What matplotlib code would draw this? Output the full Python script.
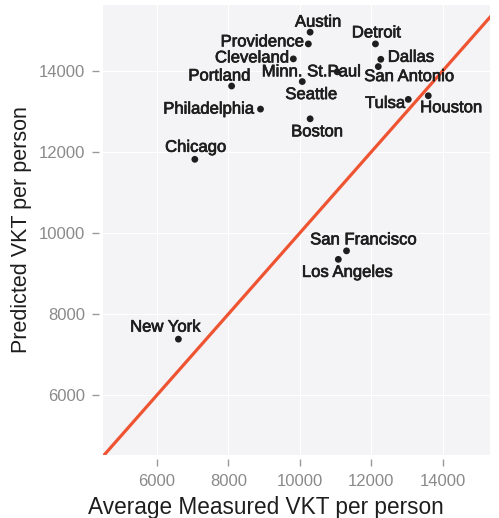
import matplotlib.pyplot as plt
import matplotlib.patheffects as pe
import numpy as np

plt.rcParams['font.family'] = ['Liberation Sans', 'DejaVu Sans']

# Measured vs predicted vehicle kilometres travelled per person
cities = ["Austin", "Providence", "Cleveland", "Portland", "Minn. St.Paul", "Seattle",
          "Detroit", "Dallas", "San Antonio", "Tulsa", "Houston", "Philadelphia",
          "Boston", "Chicago", "San Francisco", "Los Angeles", "New York"]
measured = [10290, 10240, 9820, 8090, 11050, 10070,
            12120, 12270, 12200, 13040, 13600, 8900,
            10290, 7060, 11310, 11080, 6600]
predicted = [14960, 14670, 14300, 13630, 13980, 13740,
             14670, 14290, 14110, 13300, 13390, 13060,
             12820, 11820, 9560, 9350, 7380]

# label placement: (dx, dy) in pixels and horizontal alignment
label_pos = {
    "Austin": (8, 10, 'center'),
    "Providence": (-4, 2, 'right'),
    "Cleveland": (-4, 1, 'right'),
    "Portland": (-12, 10, 'center'),
    "Minn. St.Paul": (-26, 0, 'center'),
    "Seattle": (9, -13, 'center'),
    "Detroit": (1, 11, 'center'),
    "Dallas": (7, 2, 'left'),
    "San Antonio": (31, -10, 'center'),
    "Tulsa": (-3, -4, 'right'),
    "Houston": (23, -12, 'center'),
    "Philadelphia": (-6, 0, 'right'),
    "Boston": (7, -13, 'center'),
    "Chicago": (1, 12, 'center'),
    "San Francisco": (17, 11, 'center'),
    "Los Angeles": (9, -13, 'center'),
    "New York": (-13, 12, 'center'),
}

xticks = [6000, 8000, 10000, 12000, 14000]
yticks = [6000, 8000, 10000, 12000, 14000]

fig = plt.figure(figsize=(4.99, 5.18), dpi=100)
ax = fig.add_axes([0.2064, 0.1216, 0.7756, 0.8687])
ax.set_facecolor('#f4f4f6')
for s in ax.spines.values():
    s.set_visible(False)
# small gap between the panel and the tick marks
ax.spines['left'].set_position(('outward', 3))
ax.spines['bottom'].set_position(('outward', 3))

ax.set_xlim(4487, 15330)
ax.set_ylim(4519, 15630)

# 1:1 reference line
ref = np.array([0, 20000])
ax.plot(ref, ref, color='#ef5432', lw=2.3, zorder=2)

ax.scatter(measured, predicted, s=24, color='#1e1e1e', zorder=3, edgecolors='none')

heavy = [pe.withStroke(linewidth=0.5, foreground='#1e1e1e')]
for name, x, y in zip(cities, measured, predicted):
    dx, dy, ha = label_pos[name]
    ax.annotate(name, (x, y), xytext=(dx, dy), textcoords='offset pixels',
                ha=ha, va='center', fontsize=12, color='#1e1e1e', zorder=4,
                path_effects=heavy)

ax.set_xticks(xticks)
ax.set_yticks(yticks)
ax.tick_params(axis='both', colors='#9a9a9a', labelcolor='#8a8a8a', labelsize=12,
               length=5, width=1)
ax.tick_params(axis='x', pad=6)
ax.tick_params(axis='y', pad=5)
ax.grid(color='white', lw=0.8)
ax.set_axisbelow(True)

ax.set_xlabel("Average Measured VKT per person", fontsize=16.3, color='#1e1e1e')
ax.xaxis.set_label_coords((266 - 103) / 387, -0.092)
ax.set_ylabel("Predicted VKT per person", fontsize=15.5, color='#1e1e1e', labelpad=5)

plt.savefig("out.png", dpi=100)
